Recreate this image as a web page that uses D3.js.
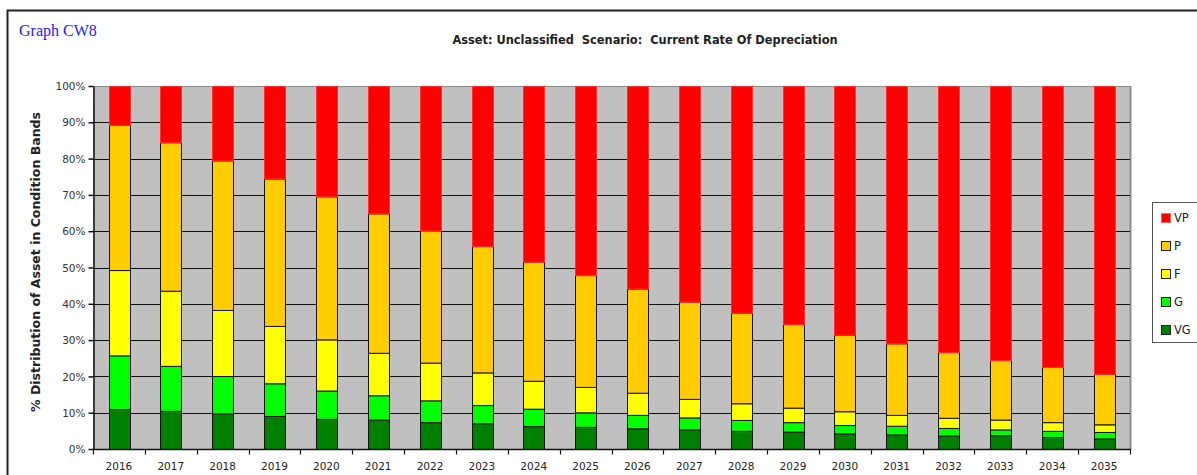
<!DOCTYPE html>
<html>
<head>
<meta charset="utf-8">
<script src="https://cdn.jsdelivr.net/npm/d3@7"></script>
<style>
  html, body { margin: 0; padding: 0; background: #fff; }
  svg { display: block; }
</style>
</head>
<body>
<div id="chart"></div>
<script>
// data (percent in each band)
var years = ["2016","2017","2018","2019","2020","2021","2022","2023","2024","2025",
             "2026","2027","2028","2029","2030","2031","2032","2033","2034","2035"];
var vgVals = [11.0,10.5,9.8,9.1,8.3,8.1,7.4,7.1,6.3,6.1,5.7,5.4,5.0,4.8,4.3,4.0,3.7,3.8,3.3,2.9];
var gVals  = [14.8,12.4,10.3,9.0,7.8,6.7,6.0,5.0,4.8,4.0,3.7,3.3,3.0,2.6,2.3,2.4,2.1,1.6,1.7,1.8];
var fVals  = [23.5,20.7,18.2,15.8,14.1,11.7,10.4,9.0,7.7,7.0,6.1,5.1,4.6,4.0,3.8,3.0,2.8,2.7,2.4,2.1];
var pVals  = [40.0,40.9,41.2,40.6,39.4,38.4,36.4,34.8,32.8,30.8,28.7,26.8,24.9,23.0,21.1,19.7,18.1,16.4,15.2,13.9];
var vpVals = [10.7,15.5,20.5,25.5,30.4,35.1,39.8,44.1,48.4,52.1,55.8,59.4,62.5,65.6,68.5,70.9,73.3,75.5,77.4,79.3];
var bands = ["VG","G","F","P","VP"];
var bandColors = {VG:"#008000", G:"#00ff00", F:"#ffff00", P:"#ffcc00", VP:"#ff0000"};
var yTicks = [0,10,20,30,40,50,60,70,80,90,100];

var W = 1197, H = 475;
var plot = {left: 93, right: 1130, top: 86, bottom: 449};
var font = "'DejaVu Sans', Tahoma, sans-serif";

var svg = d3.select("#chart").append("svg").attr("width", W).attr("height", H);

// outer frame
svg.append("path")
  .attr("d", "M7.5," + H + " V10.5 H" + W)
  .attr("fill", "none").attr("stroke", "#222").attr("stroke-width", 2);

svg.append("text").attr("x", 19).attr("y", 36)
  .style("font-family", "'Liberation Serif', 'Times New Roman', serif")
  .style("font-size", "16px").style("fill", "#1a1aff")
  .text("Graph CW8");

svg.append("text").attr("x", 645).attr("y", 44)
  .attr("text-anchor", "middle")
  .style("white-space", "pre")
  .style("font-family", font)
  .style("font-weight", "bold").style("font-size", "11.4px").style("fill", "#222")
  .text("Asset: Unclassified  Scenario:  Current Rate Of Depreciation");

var x = d3.scaleBand().domain(years).range([plot.left, plot.right]).paddingInner(0.6).paddingOuter(0.3);
var y = d3.scaleLinear().domain([0, 100]).range([plot.bottom, plot.top]);

// plot background
svg.append("rect")
  .attr("x", plot.left).attr("y", plot.top)
  .attr("width", plot.right - plot.left).attr("height", plot.bottom - plot.top)
  .attr("fill", "#c0c0c0").attr("stroke", "none");
svg.append("line").attr("x1", plot.left).attr("x2", plot.right)
  .attr("y1", plot.top + 0.5).attr("y2", plot.top + 0.5).attr("stroke", "#8a8a8a");
svg.append("line").attr("x1", plot.right + 0.5).attr("x2", plot.right + 0.5)
  .attr("y1", plot.top).attr("y2", plot.bottom).attr("stroke", "#8a8a8a").attr("stroke-width", 2);

// gridlines
svg.append("g").selectAll("line").data(yTicks.filter(function (d) { return d > 0 && d < 100; }))
  .join("line")
  .attr("x1", plot.left).attr("x2", plot.right)
  .attr("y1", function (d) { return Math.round(y(d)) + 0.5; })
  .attr("y2", function (d) { return Math.round(y(d)) + 0.5; })
  .attr("stroke", "#111").attr("stroke-width", 1);

// stacked bars
var rows = years.map(function (yr, i) {
  return {year: yr, VG: vgVals[i], G: gVals[i], F: fVals[i], P: pVals[i], VP: vpVals[i]};
});
var stack = d3.stack().keys(bands)(rows);

var layers = svg.append("g").selectAll("g").data(stack).join("g")
  .attr("fill", function (d) { return bandColors[d.key]; })
  .attr("stroke", function (d) { return d.key === "VP" ? "#ff3030" : "#111"; })
  .attr("stroke-width", 1);

layers.selectAll("rect").data(function (d) { return d; }).join("rect")
  .attr("x", function (d) { return Math.round(x(d.data.year)) + 0.5; })
  .attr("width", Math.round(x.bandwidth()))
  .attr("y", function (d) { return y(Math.min(d[1], 100)) + 0.5; })
  .attr("height", function (d) { return Math.max(0, y(d[0]) - y(Math.min(d[1], 100))); });

// y axis
var yAxis = svg.append("g").attr("transform", "translate(" + (plot.left + 0.5) + ",0)")
  .call(d3.axisLeft(y).tickValues(yTicks).tickSize(5).tickSizeOuter(0)
    .tickFormat(function (d) { return d + "%"; }));
yAxis.select(".domain").attr("stroke", "#111").attr("stroke-width", 1.5);
yAxis.selectAll(".tick line").attr("stroke", "#111").attr("stroke-width", 1.5);
yAxis.selectAll("text")
  .style("font-family", font).style("font-size", "10.5px")
  .style("fill", "#333").attr("x", -8).attr("dy", "0.35em");

// x axis: ticks between categories
var xAxisG = svg.append("g").attr("transform", "translate(0," + (plot.bottom + 0.5) + ")");
xAxisG.append("line").attr("x1", plot.left).attr("x2", plot.right + 1)
  .attr("stroke", "#111").attr("stroke-width", 1.5);
var edges = d3.range(years.length + 1).map(function (i) { return plot.left + i * (plot.right - plot.left) / years.length; });
xAxisG.selectAll("line.tk").data(edges).join("line").attr("class", "tk")
  .attr("x1", function (d) { return Math.round(d) + 0.5; })
  .attr("x2", function (d) { return Math.round(d) + 0.5; })
  .attr("y1", 0).attr("y2", 5).attr("stroke", "#111").attr("stroke-width", 1.2);
xAxisG.selectAll("text").data(years).join("text")
  .attr("x", function (d) { return x(d) + x.bandwidth() / 2; })
  .attr("y", 20).attr("text-anchor", "middle")
  .style("font-family", font).style("font-size", "10.5px")
  .style("fill", "#222")
  .text(function (d) { return d; });

// y title
svg.append("text")
  .attr("transform", "translate(40,262) rotate(-90)")
  .attr("text-anchor", "middle")
  .style("font-family", font).style("font-weight", "bold")
  .style("font-size", "12.5px").style("fill", "#222")
  .text("% Distribution of Asset in Condition Bands");

// legend
var lg = svg.append("g");
lg.append("rect").attr("x", 1152.5).attr("y", 202.5).attr("width", 60).attr("height", 140)
  .attr("fill", "#fff").attr("stroke", "#555").attr("stroke-width", 1);
var legItems = bands.slice().reverse();
var li = lg.selectAll("g.it").data(legItems).join("g").attr("class", "it")
  .attr("transform", function (d, i) { return "translate(1161," + (218 + i * 28) + ")"; });
li.append("rect").attr("x", 0.5).attr("y", -4.5).attr("width", 9).attr("height", 9)
  .attr("fill", function (d) { return bandColors[d]; })
  .attr("stroke", function (d) { return d === "VP" ? "#ff6060" : "#222"; });
li.append("text").attr("x", 13).attr("y", 0).attr("dy", "0.38em")
  .style("font-family", font).style("font-size", "11.5px")
  .style("fill", "#222")
  .text(function (d) { return d; });
</script>
</body>
</html>
